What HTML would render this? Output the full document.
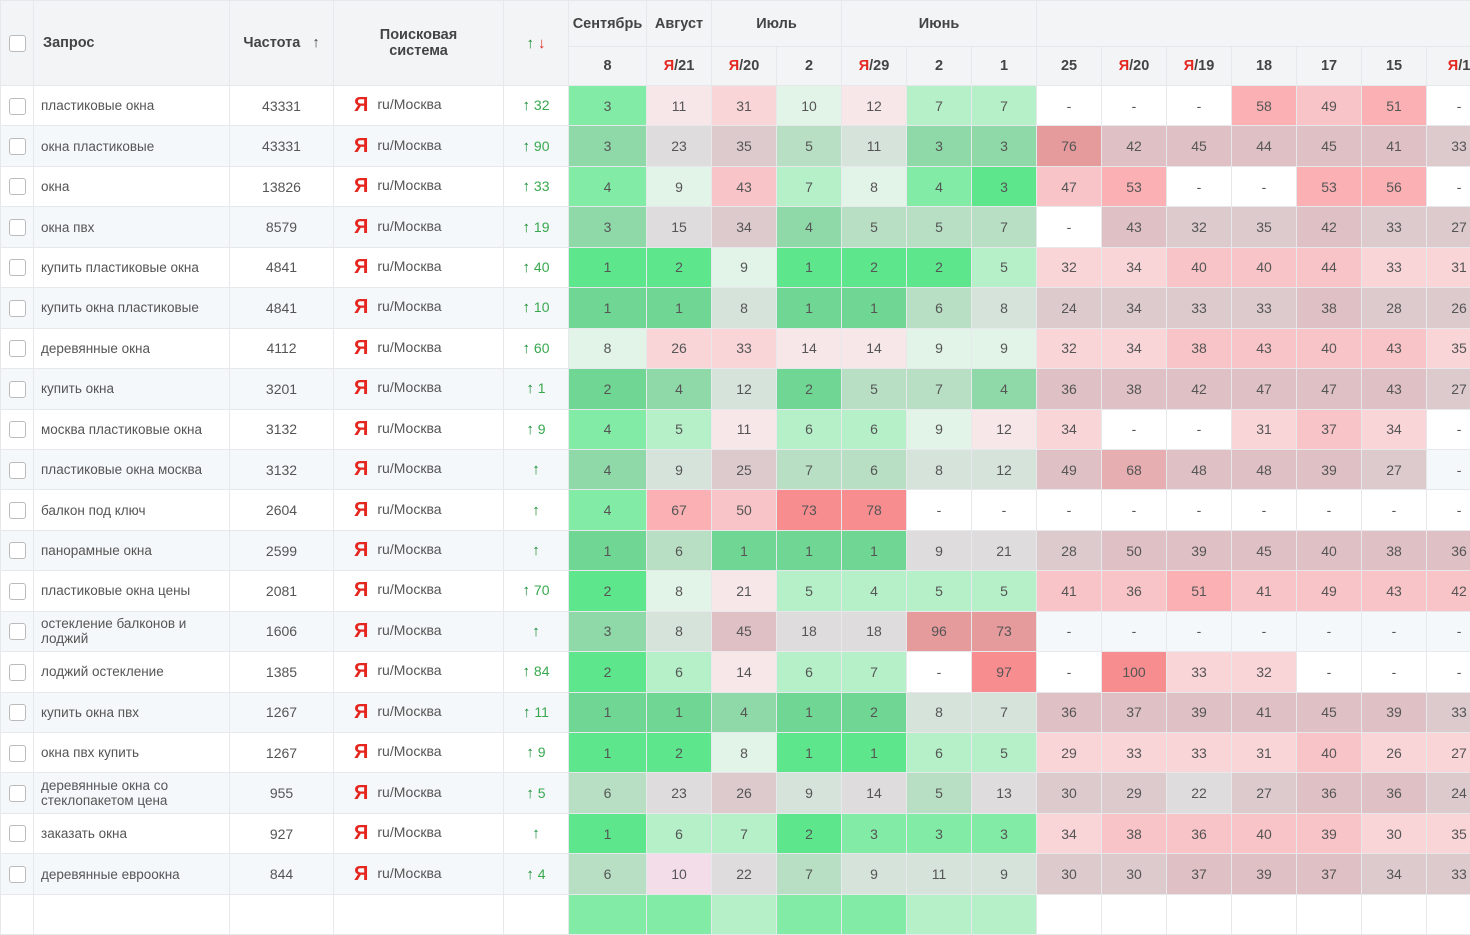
<!DOCTYPE html>
<html><head><meta charset="utf-8"><style>
body{margin:0;width:1470px;height:903px;overflow:hidden;background:#fff;font-family:"Liberation Sans",Arial,sans-serif;}
table{border-collapse:collapse;table-layout:fixed;width:1491px;position:absolute;left:0;top:0;}
td,th{border:1px solid #e6e8eb;padding:0;font-size:14px;color:#555;text-align:center;white-space:nowrap;overflow:hidden;}
th{background:#f3f4f6;color:#444;font-weight:bold;font-size:14.5px;}
thead tr.r1{height:46px}thead tr.r2{height:39px}
tbody tr{height:40.45px}
tbody tr.e td{background:#f5f8fa}
.cb{display:inline-block;width:15px;height:15px;border:1px solid #bbb;border-radius:3px;background:#fff;vertical-align:middle}
td.q{text-align:left;padding-left:7px;font-size:13.5px;white-space:normal;line-height:15px}
th.q{text-align:left;padding-left:9px}
.ya{color:#e5261f;font-weight:bold;font-size:20px;vertical-align:-2px;margin-right:9px}
td.se{text-align:left;padding-left:20px}
.up{color:#138a30;font-weight:bold;font-size:15px}.dn{color:#e5261f;font-weight:bold;font-size:15px}
td.ch{color:#38a84f}
.r{color:#e5261f}
td.n{background:#fff}
tr td.g1{background:#5de68c}tr td.g2{background:#82eca7}tr td.g3{background:#b5f0c8}tr td.g4{background:#e2f3e7}
tr td.p1{background:#f7e7e9}tr td.p2{background:#f9d5d8}tr td.p3{background:#f8c4c7}tr td.p4{background:#fbb1b4}tr td.p5{background:#f88d90}
tr.e td.g1{background:#6fd693}tr.e td.g2{background:#8fd9a8}tr.e td.g3{background:#b8dfc4}tr.e td.g4{background:#d6e3da}
tr.e td.p1{background:#dfdcdd}tr.e td.p2{background:#dccacd}tr.e td.p3{background:#dfc0c4}tr.e td.p4{background:#e6aeb1}tr.e td.p5{background:#e59a9c}
tr.e td.n{background:#f5f8fa}
</style></head><body>
<table>
<colgroup><col style="width:33px"><col style="width:196px"><col style="width:104px"><col style="width:170px"><col style="width:65px"><col style="width:78px"><col style="width:65px"><col style="width:65px"><col style="width:65px"><col style="width:65px"><col style="width:65px"><col style="width:65px"><col style="width:65px"><col style="width:65px"><col style="width:65px"><col style="width:65px"><col style="width:65px"><col style="width:65px"><col style="width:65px"></colgroup>
<thead>
<tr class="r1"><th rowspan="2"><span class="cb"></span></th><th rowspan="2" class="q">Запрос</th><th rowspan="2">Частота &nbsp;&nbsp;<span style="font-weight:normal">↑</span></th><th rowspan="2">Поисковая<br>система</th><th rowspan="2"><span class="up">↑</span> <span class="dn">↓</span></th><th>Сентябрь</th><th>Август</th><th colspan="2">Июль</th><th colspan="3">Июнь</th><th colspan="7"></th></tr>
<tr class="r2"><th>8</th><th><span class="r">Я</span>/21</th><th><span class="r">Я</span>/20</th><th>2</th><th><span class="r">Я</span>/29</th><th>2</th><th>1</th><th>25</th><th><span class="r">Я</span>/20</th><th><span class="r">Я</span>/19</th><th>18</th><th>17</th><th>15</th><th><span class="r">Я</span>/1</th></tr>
</thead>
<tbody>
<tr><td><span class="cb"></span></td><td class="q">пластиковые окна</td><td>43331</td><td class="se"><span class="ya">Я</span>ru/Москва</td><td class="ch"><span class="up">↑</span> 32</td><td class="g2">3</td><td class="p1">11</td><td class="p2">31</td><td class="g4">10</td><td class="p1">12</td><td class="g3">7</td><td class="g3">7</td><td class="n">-</td><td class="n">-</td><td class="n">-</td><td class="p4">58</td><td class="p3">49</td><td class="p4">51</td><td class="n">-</td></tr>
<tr class="e"><td><span class="cb"></span></td><td class="q">окна пластиковые</td><td>43331</td><td class="se"><span class="ya">Я</span>ru/Москва</td><td class="ch"><span class="up">↑</span> 90</td><td class="g2">3</td><td class="p1">23</td><td class="p2">35</td><td class="g3">5</td><td class="g4">11</td><td class="g2">3</td><td class="g2">3</td><td class="p5">76</td><td class="p3">42</td><td class="p3">45</td><td class="p3">44</td><td class="p3">45</td><td class="p3">41</td><td class="p2">33</td></tr>
<tr><td><span class="cb"></span></td><td class="q">окна</td><td>13826</td><td class="se"><span class="ya">Я</span>ru/Москва</td><td class="ch"><span class="up">↑</span> 33</td><td class="g2">4</td><td class="g4">9</td><td class="p3">43</td><td class="g3">7</td><td class="g4">8</td><td class="g2">4</td><td class="g1">3</td><td class="p3">47</td><td class="p4">53</td><td class="n">-</td><td class="n">-</td><td class="p4">53</td><td class="p4">56</td><td class="n">-</td></tr>
<tr class="e"><td><span class="cb"></span></td><td class="q">окна пвх</td><td>8579</td><td class="se"><span class="ya">Я</span>ru/Москва</td><td class="ch"><span class="up">↑</span> 19</td><td class="g2">3</td><td class="p1">15</td><td class="p2">34</td><td class="g2">4</td><td class="g3">5</td><td class="g3">5</td><td class="g3">7</td><td style="background:#fff">-</td><td class="p3">43</td><td class="p2">32</td><td class="p2">35</td><td class="p3">42</td><td class="p2">33</td><td class="p2">27</td></tr>
<tr><td><span class="cb"></span></td><td class="q">купить пластиковые окна</td><td>4841</td><td class="se"><span class="ya">Я</span>ru/Москва</td><td class="ch"><span class="up">↑</span> 40</td><td class="g1">1</td><td class="g1">2</td><td class="g4">9</td><td class="g1">1</td><td class="g1">2</td><td class="g1">2</td><td class="g3">5</td><td class="p2">32</td><td class="p2">34</td><td class="p3">40</td><td class="p3">40</td><td class="p3">44</td><td class="p2">33</td><td class="p2">31</td></tr>
<tr class="e"><td><span class="cb"></span></td><td class="q">купить окна пластиковые</td><td>4841</td><td class="se"><span class="ya">Я</span>ru/Москва</td><td class="ch"><span class="up">↑</span> 10</td><td class="g1">1</td><td class="g1">1</td><td class="g4">8</td><td class="g1">1</td><td class="g1">1</td><td class="g3">6</td><td class="g4">8</td><td class="p2">24</td><td class="p2">34</td><td class="p2">33</td><td class="p2">33</td><td class="p3">38</td><td class="p2">28</td><td class="p2">26</td></tr>
<tr><td><span class="cb"></span></td><td class="q">деревянные окна</td><td>4112</td><td class="se"><span class="ya">Я</span>ru/Москва</td><td class="ch"><span class="up">↑</span> 60</td><td class="g4">8</td><td class="p2">26</td><td class="p2">33</td><td class="p1">14</td><td class="p1">14</td><td class="g4">9</td><td class="g4">9</td><td class="p2">32</td><td class="p2">34</td><td class="p3">38</td><td class="p3">43</td><td class="p3">40</td><td class="p3">43</td><td class="p2">35</td></tr>
<tr class="e"><td><span class="cb"></span></td><td class="q">купить окна</td><td>3201</td><td class="se"><span class="ya">Я</span>ru/Москва</td><td class="ch"><span class="up">↑</span> 1</td><td class="g1">2</td><td class="g2">4</td><td class="g4">12</td><td class="g1">2</td><td class="g3">5</td><td class="g3">7</td><td class="g2">4</td><td class="p3">36</td><td class="p3">38</td><td class="p3">42</td><td class="p3">47</td><td class="p3">47</td><td class="p3">43</td><td class="p2">27</td></tr>
<tr><td><span class="cb"></span></td><td class="q">москва пластиковые окна</td><td>3132</td><td class="se"><span class="ya">Я</span>ru/Москва</td><td class="ch"><span class="up">↑</span> 9</td><td class="g2">4</td><td class="g3">5</td><td class="p1">11</td><td class="g3">6</td><td class="g3">6</td><td class="g4">9</td><td class="p1">12</td><td class="p2">34</td><td class="n">-</td><td class="n">-</td><td class="p2">31</td><td class="p3">37</td><td class="p2">34</td><td class="n">-</td></tr>
<tr class="e"><td><span class="cb"></span></td><td class="q">пластиковые окна москва</td><td>3132</td><td class="se"><span class="ya">Я</span>ru/Москва</td><td class="ch"><span class="up">↑</span></td><td class="g2">4</td><td class="g4">9</td><td class="p2">25</td><td class="g3">7</td><td class="g3">6</td><td class="g4">8</td><td class="g4">12</td><td class="p3">49</td><td class="p4">68</td><td class="p3">48</td><td class="p3">48</td><td class="p3">39</td><td class="p2">27</td><td class="n">-</td></tr>
<tr><td><span class="cb"></span></td><td class="q">балкон под ключ</td><td>2604</td><td class="se"><span class="ya">Я</span>ru/Москва</td><td class="ch"><span class="up">↑</span></td><td class="g2">4</td><td class="p4">67</td><td class="p3">50</td><td class="p5">73</td><td class="p5">78</td><td class="n">-</td><td class="n">-</td><td class="n">-</td><td class="n">-</td><td class="n">-</td><td class="n">-</td><td class="n">-</td><td class="n">-</td><td class="n">-</td></tr>
<tr class="e"><td><span class="cb"></span></td><td class="q">панорамные окна</td><td>2599</td><td class="se"><span class="ya">Я</span>ru/Москва</td><td class="ch"><span class="up">↑</span></td><td class="g1">1</td><td class="g3">6</td><td class="g1">1</td><td class="g1">1</td><td class="g1">1</td><td class="p1">9</td><td class="p1">21</td><td class="p2">28</td><td class="p3">50</td><td class="p3">39</td><td class="p3">45</td><td class="p3">40</td><td class="p3">38</td><td class="p3">36</td></tr>
<tr><td><span class="cb"></span></td><td class="q">пластиковые окна цены</td><td>2081</td><td class="se"><span class="ya">Я</span>ru/Москва</td><td class="ch"><span class="up">↑</span> 70</td><td class="g1">2</td><td class="g4">8</td><td class="p1">21</td><td class="g3">5</td><td class="g3">4</td><td class="g3">5</td><td class="g3">5</td><td class="p3">41</td><td class="p3">36</td><td class="p4">51</td><td class="p3">41</td><td class="p3">49</td><td class="p3">43</td><td class="p3">42</td></tr>
<tr class="e"><td><span class="cb"></span></td><td class="q">остекление балконов и лоджий</td><td>1606</td><td class="se"><span class="ya">Я</span>ru/Москва</td><td class="ch"><span class="up">↑</span></td><td class="g2">3</td><td class="g4">8</td><td class="p3">45</td><td class="p1">18</td><td class="p1">18</td><td class="p5">96</td><td class="p5">73</td><td class="n">-</td><td class="n">-</td><td class="n">-</td><td class="n">-</td><td class="n">-</td><td class="n">-</td><td class="n">-</td></tr>
<tr><td><span class="cb"></span></td><td class="q">лоджий остекление</td><td>1385</td><td class="se"><span class="ya">Я</span>ru/Москва</td><td class="ch"><span class="up">↑</span> 84</td><td class="g1">2</td><td class="g3">6</td><td class="p1">14</td><td class="g3">6</td><td class="g3">7</td><td class="n">-</td><td class="p5">97</td><td class="n">-</td><td class="p5">100</td><td class="p2">33</td><td class="p2">32</td><td class="n">-</td><td class="n">-</td><td class="n">-</td></tr>
<tr class="e"><td><span class="cb"></span></td><td class="q">купить окна пвх</td><td>1267</td><td class="se"><span class="ya">Я</span>ru/Москва</td><td class="ch"><span class="up">↑</span> 11</td><td class="g1">1</td><td class="g1">1</td><td class="g2">4</td><td class="g1">1</td><td class="g1">2</td><td class="g4">8</td><td class="g4">7</td><td class="p3">36</td><td class="p3">37</td><td class="p3">39</td><td class="p3">41</td><td class="p3">45</td><td class="p3">39</td><td class="p2">33</td></tr>
<tr><td><span class="cb"></span></td><td class="q">окна пвх купить</td><td>1267</td><td class="se"><span class="ya">Я</span>ru/Москва</td><td class="ch"><span class="up">↑</span> 9</td><td class="g1">1</td><td class="g1">2</td><td class="g4">8</td><td class="g1">1</td><td class="g1">1</td><td class="g3">6</td><td class="g3">5</td><td class="p2">29</td><td class="p2">33</td><td class="p2">33</td><td class="p2">31</td><td class="p3">40</td><td class="p2">26</td><td class="p2">27</td></tr>
<tr class="e"><td><span class="cb"></span></td><td class="q">деревянные окна со стеклопакетом цена</td><td>955</td><td class="se"><span class="ya">Я</span>ru/Москва</td><td class="ch"><span class="up">↑</span> 5</td><td class="g3">6</td><td class="p1">23</td><td class="p2">26</td><td class="g4">9</td><td class="p1">14</td><td class="g3">5</td><td class="p1">13</td><td class="p2">30</td><td class="p2">29</td><td class="p1">22</td><td class="p2">27</td><td class="p3">36</td><td class="p3">36</td><td class="p2">24</td></tr>
<tr><td><span class="cb"></span></td><td class="q">заказать окна</td><td>927</td><td class="se"><span class="ya">Я</span>ru/Москва</td><td class="ch"><span class="up">↑</span></td><td class="g1">1</td><td class="g3">6</td><td class="g3">7</td><td class="g1">2</td><td class="g2">3</td><td class="g2">3</td><td class="g2">3</td><td class="p2">34</td><td class="p3">38</td><td class="p3">36</td><td class="p3">40</td><td class="p3">39</td><td class="p2">30</td><td class="p2">35</td></tr>
<tr class="e"><td><span class="cb"></span></td><td class="q">деревянные евроокна</td><td>844</td><td class="se"><span class="ya">Я</span>ru/Москва</td><td class="ch"><span class="up">↑</span> 4</td><td class="g3">6</td><td class="p1" style="background:#f3dde8">10</td><td class="p1">22</td><td class="g3">7</td><td class="g4">9</td><td class="g4">11</td><td class="g4">9</td><td class="p2">30</td><td class="p2">30</td><td class="p3">37</td><td class="p3">39</td><td class="p3">37</td><td class="p2">34</td><td class="p2">33</td></tr>
<tr><td></td><td></td><td></td><td></td><td></td><td class="g2"></td><td class="g2"></td><td class="g3"></td><td class="g2"></td><td class="g2"></td><td class="g3"></td><td class="g3"></td><td></td><td></td><td></td><td></td><td></td><td></td><td></td></tr>
</tbody></table>
</body></html>
